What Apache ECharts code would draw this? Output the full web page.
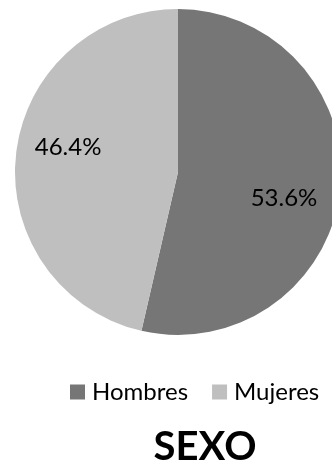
<!DOCTYPE html>
<html>
<head>
<meta charset="utf-8">
<script src="https://cdn.jsdelivr.net/npm/echarts@6/dist/echarts.min.js"></script>
<style>html,body{margin:0;padding:0;background:#fff;}#c{width:332px;height:468px;}</style>
</head>
<body>
<div id="c"></div>
<script>
const categories = ['Hombres', 'Mujeres'];
const values = [53.6, 46.4];
const titleText = 'SEXO';

const colors = ['#767676', '#bfbfbf'];
const labelOffsets = [[22, 17], [-26, -15]];
const FONT = 'Lato';

const chart = echarts.init(document.getElementById('c'), null, {renderer: 'canvas'});
chart.setOption({
  animation: false,
  backgroundColor: '#ffffff',
  title: {
    text: titleText,
    left: 200,
    textAlign: 'center',
    top: 422,
    textStyle: {fontFamily: FONT, fontWeight: 'bold', fontSize: 40, color: '#000'}
  },
  legend: {
    data: categories,
    orient: 'horizontal',
    left: 70,
    top: 380,
    width: 320,
    padding: 0,
    icon: 'rect',
    itemWidth: 15,
    itemHeight: 15,
    itemGap: 24,
    textStyle: {fontFamily: FONT, fontSize: 24, color: '#000', padding: [0, 0, 0, 2]}
  },
  series: [{
    type: 'pie',
    center: [178, 172],
    radius: 163,
    startAngle: 90,
    clockwise: true,
    silent: true,
    label: {
      show: true,
      position: 'inside',
      formatter: (p) => p.value.toFixed(1) + '%',
      fontFamily: FONT,
      fontSize: 24,
      color: '#000'
    },
    labelLine: {show: false},
    itemStyle: {borderWidth: 0},
    data: categories.map((name, i) => ({
      name: name,
      value: values[i],
      itemStyle: {color: colors[i]},
      label: {offset: labelOffsets[i]}
    }))
  }]
});
</script>
</body>
</html>
